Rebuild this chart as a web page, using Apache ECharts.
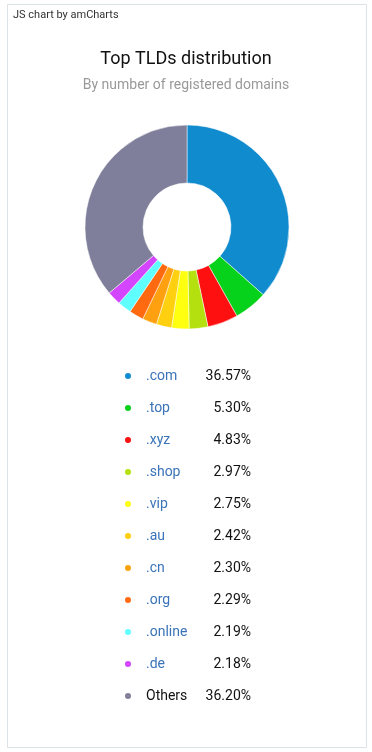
<!DOCTYPE html>
<html>
<head>
<meta charset="utf-8">
<script src="https://cdn.jsdelivr.net/npm/echarts@6/dist/echarts.min.js"></script>
<style>
html,body{margin:0;padding:0;background:#fff;}
#chart{width:372px;height:752px;}
</style>
</head>
<body>
<div id="chart"></div>
<script>
const categories = ['.com', '.top', '.xyz', '.shop', '.vip', '.au', '.cn', '.org', '.online', '.de', 'Others'];
const shares = [36.57, 5.30, 4.83, 2.97, 2.75, 2.42, 2.30, 2.29, 2.19, 2.18, 36.20];
const colors = ['#108bce', '#06d21b', '#ff1010', '#b5e00f', '#ffff10', '#ffd010', '#ffa010', '#ff6a10', '#60ffff', '#d445ff', '#7f7f9b'];

const chart = echarts.init(document.getElementById('chart'), null, {renderer: 'canvas'});
const valueMap = {};
categories.forEach((c, i) => valueMap[c] = shares[i]);

chart.setOption({
  backgroundColor: '#fff',
  textStyle: {fontFamily: 'Roboto, sans-serif'},
  graphic: [
    {type: 'rect', shape: {x: 7.5, y: 4.5, width: 359, height: 743}, style: {fill: 'none', stroke: '#dce3e6', lineWidth: 1}, silent: true},
    {type: 'text', left: 13, top: 10, style: {text: 'JS chart by amCharts', fill: '#333', font: '11px Roboto, sans-serif'}}
  ],
  title: [
    {text: 'Top TLDs distribution', left: 'center', top: 45, textStyle: {fontSize: 18, fontWeight: 'normal', color: '#111', fontFamily: 'Roboto, sans-serif'}},
    {text: 'By number of registered domains', left: 'center', top: 73, textStyle: {fontSize: 14, fontWeight: 'normal', color: '#999', fontFamily: 'Roboto, sans-serif'}}
  ],
  color: colors,
  legend: {
    orient: 'vertical',
    left: 123,
    top: 369,
    padding: 0,
    icon: 'circle',
    itemWidth: 8,
    itemHeight: 8,
    itemGap: 18,
    selectedMode: false,
    data: categories,
    formatter: function (name) {
      const v = valueMap[name].toFixed(2) + '%';
      return '{' + (name === 'Others' ? 'o' : 'n') + '|' + name + '}{v|' + v + '}';
    },
    textStyle: {
      padding: [0, 0, 0, 9],
      rich: {
        n: {width: 60, fontSize: 14, color: '#3a73b8', fontFamily: 'Roboto, sans-serif'},
        o: {width: 60, fontSize: 14, color: '#111', fontFamily: 'Roboto, sans-serif'},
        v: {width: 45, align: 'right', fontSize: 14, color: '#111', fontFamily: 'Roboto, sans-serif'}
      }
    }
  },
  series: [{
    type: 'pie',
    center: [187, 227],
    radius: [44, 102],
    startAngle: 90,
    clockwise: true,
    label: {show: false},
    labelLine: {show: false},
    silent: true,
    itemStyle: {borderColor: '#fff', borderWidth: 0.5},
    data: categories.map((c, i) => ({name: c, value: shares[i]}))
  }]
});
</script>
</body>
</html>
